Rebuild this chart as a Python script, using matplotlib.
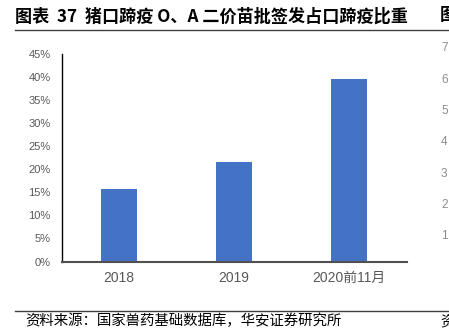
import matplotlib.pyplot as plt
from matplotlib.lines import Line2D

categories = ["2018", "2019", "2020前11月"]
shares = [15.8, 21.5, 39.5]  # % of FMD vaccine batches
yticks = [0, 5, 10, 15, 20, 25, 30, 35, 40, 45]
side_ticks = ["7", "6", "5", "4", "3", "2", "1"]

title = "图表  37  猪口蹄疫 O、A 二价苗批签发占口蹄疫比重"
source = "资料来源：国家兽药基础数据库，华安证券研究所"

W, H = 449, 332
cjk = ["Noto Sans CJK SC", "DejaVu Sans"]
num = ["Liberation Sans", "Noto Sans CJK SC"]
gray = "#595959"

fig = plt.figure(figsize=(W / 100, H / 100), dpi=100)

def fx(px):
    return px / W

def fy(py):
    return 1 - py / H

ax = fig.add_axes([fx(61.5), fy(261.5), fx(406.5) - fx(61.5), fy(54) - fy(261.5)])
xs = range(len(categories))
ax.bar(xs, shares, width=0.31, color="#4472C4", zorder=2)
ax.set_xlim(-0.5, 2.5)
ax.set_ylim(0, 45)
ax.set_yticks(yticks)
ax.set_yticklabels([f"{t}%" for t in yticks], family=num, fontsize=8, color=gray)
ax.set_xticks(list(xs))
ax.set_xticklabels(categories, family=num, fontsize=10, color=gray)
ax.tick_params(axis="y", length=0, pad=8)
ax.tick_params(axis="x", length=0, pad=7)
for s in ["top", "right"]:
    ax.spines[s].set_visible(False)
ax.spines["left"].set_color("black")
ax.spines["left"].set_linewidth(1.0)
ax.spines["bottom"].set_color("#505050")
ax.spines["bottom"].set_linewidth(1.5)
ax.spines["bottom"].set_zorder(3)

# header / footer of the report page
fig.text(fx(15), fy(17), title, family=cjk, fontsize=12.3, fontweight="bold",
         va="center", ha="left")
fig.text(fx(440), fy(15), "图", family=cjk, fontsize=12.3, fontweight="bold",
         va="center", ha="left")
fig.add_artist(Line2D([fx(15), 1], [fy(29.5), fy(29.5)], color="#404040", lw=1.0))
fig.add_artist(Line2D([fx(15), 1], [fy(310.5), fy(310.5)], color="#404040", lw=1.0))
fig.text(fx(25), fy(321), source, family=cjk, fontsize=10.4, va="center", ha="left")
fig.text(fx(440), fy(321), "资", family=cjk, fontsize=10.4, va="center", ha="left")

# edge of the neighbouring chart
side_y = [48, 80, 111, 142, 174, 205, 236]
for lab, py in zip(side_ticks, side_y):
    fig.text(fx(441), fy(py), lab, family=num, fontsize=8.5, color="#8c8c8c",
             va="center", ha="left")

fig.savefig("out.png", dpi=100)
